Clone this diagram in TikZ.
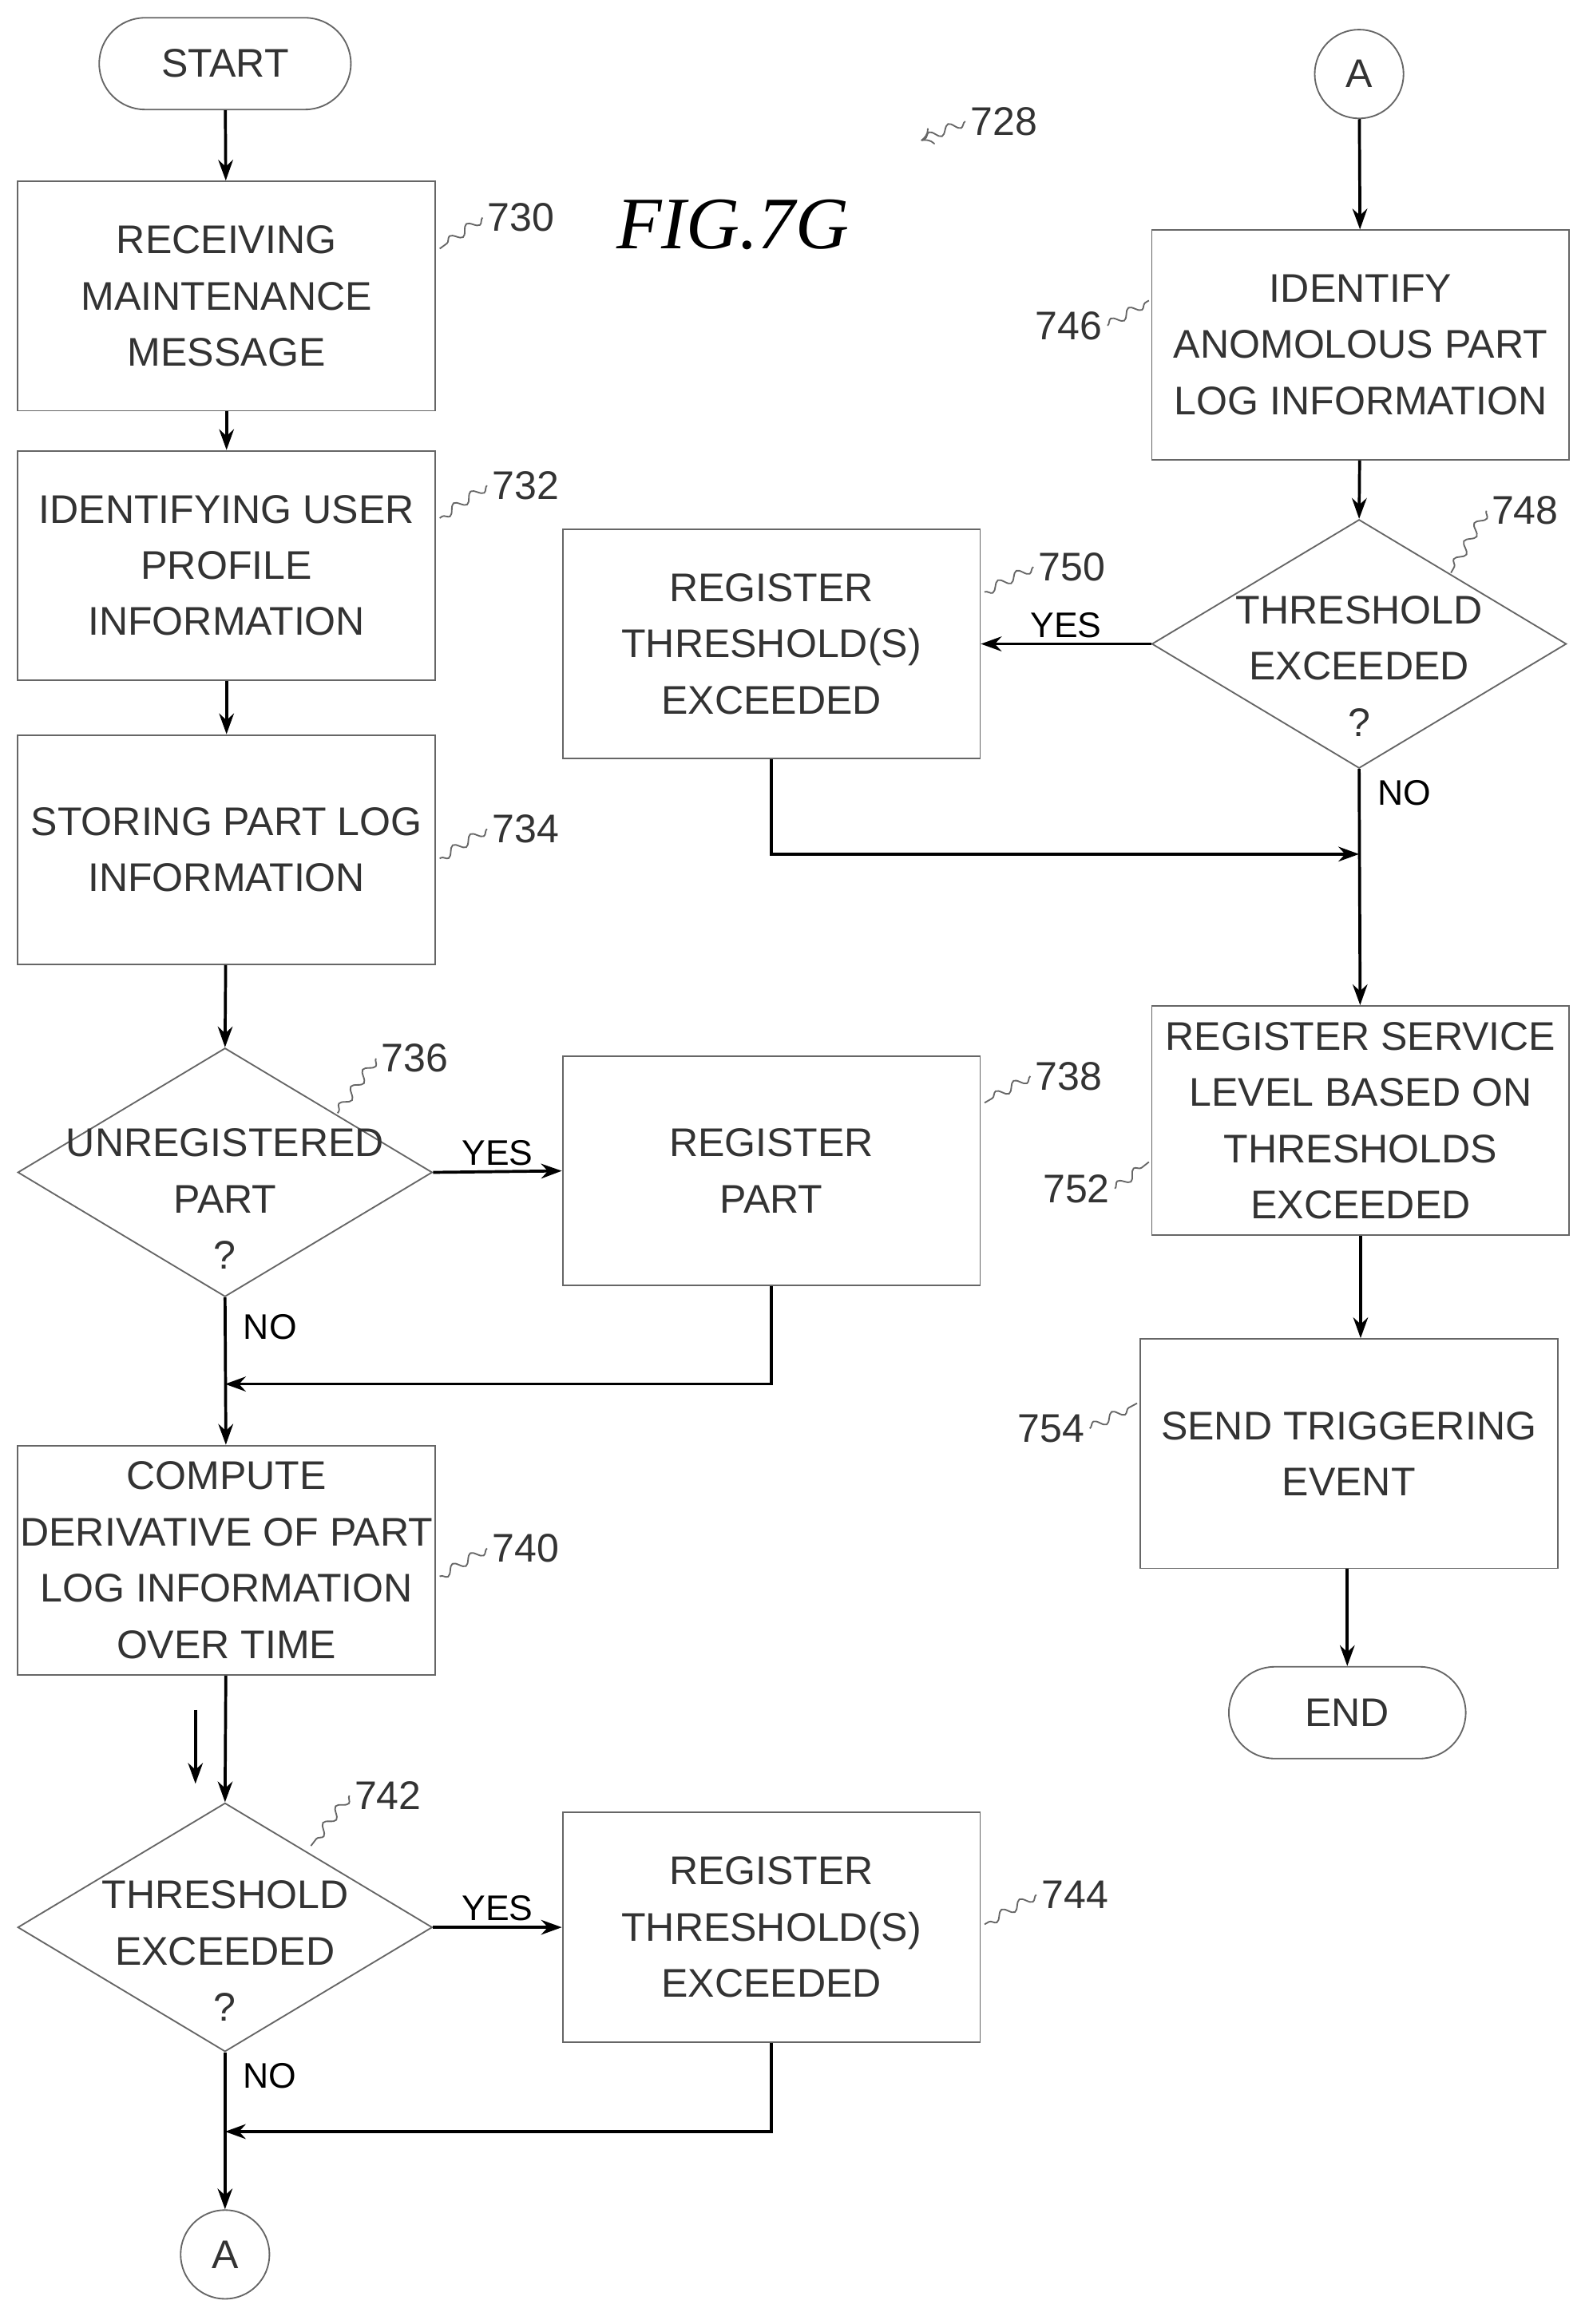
\documentclass[tikz,border=0pt]{standalone}
\usepackage{fontspec}
\setmainfont{Liberation Sans}
\newfontfamily\figfont{Liberation Serif}
\usetikzlibrary{shapes.geometric,decorations.pathmorphing,arrows.meta}
\tikzset{
  box/.style={draw=black!60, line width=1pt, minimum width=282pt, minimum height=155pt, align=center, inner sep=0pt, text=black!80},
  term/.style={draw=black!60, line width=1pt, rounded corners=31pt, minimum height=62pt, align=center, text=black!80},
  dia/.style={draw=black!60, line width=1pt, diamond, aspect=1.667, minimum width=280pt, minimum height=168pt, inner sep=0pt},
  conn/.style={draw=black!60, line width=1pt, circle, minimum size=60pt, inner sep=0pt, text=black!80},
  flow/.style={-{Stealth[length=14pt,width=10pt]}, line width=2pt},
  lead/.style={black!60, line width=1pt, decorate, decoration={snake, amplitude=3pt, segment length=14pt}},
  num/.style={text=black!80},
}
\begin{document}
\begin{tikzpicture}[x=1pt,y=-1pt,font=\fontsize{27}{38}\selectfont]
\useasboundingbox (0,0) rectangle (1073,1570);
% left column
\node[term, minimum width=170pt] (start) at (152,43) {START};
\node[box] (b730) at (153,200) {RECEIVING\\MAINTENANCE\\MESSAGE};
\node[box] (b732) at (153,382) {IDENTIFYING USER\\PROFILE\\INFORMATION};
\node[box] (b734) at (153,574) {STORING PART LOG\\INFORMATION};
\node[dia] (d736) at (152,792) {};
\node[align=center, text=black!80] (t736) at (152,810) {UNREGISTERED\\PART\\?};
\node[box] (b738) at (521,791) {REGISTER\\PART};
\node[box] (b740) at (153,1054) {COMPUTE\\DERIVATIVE OF PART\\LOG INFORMATION\\OVER TIME};
\node[dia] (d742) at (152,1302) {};
\node[align=center, text=black!80] (t742) at (152,1318) {THRESHOLD\\EXCEEDED\\?};
\node[box] (b744) at (521,1302) {REGISTER\\THRESHOLD(S)\\EXCEEDED};
\node[conn] (aout) at (152,1523) {A};
% right column
\node[conn] (ain) at (918,50) {A};
\node[box] (b746) at (919,233) {IDENTIFY\\ANOMOLOUS PART\\LOG INFORMATION};
\node[dia] (d748) at (918,435) {};
\node[align=center, text=black!80] (t748) at (918,450) {THRESHOLD\\EXCEEDED\\?};
\node[box] (b750) at (521,435) {REGISTER\\THRESHOLD(S)\\EXCEEDED};
\node[box] (b752) at (919,757) {REGISTER SERVICE\\LEVEL BASED ON\\THRESHOLDS\\EXCEEDED};
\node[box] (b754) at (911,982) {SEND TRIGGERING\\EVENT};
\node[term, minimum width=160pt] (end) at (910,1157) {END};
\coordinate (j1) at (152,935);
\coordinate (j2) at (152,1440);
\coordinate (j3) at (918,577);
\coordinate (x1) at (132,1155);
\coordinate (x2) at (132,1205);
% title and reference numbers
\node[font=\figfont\itshape\fontsize{50}{55}\selectfont] (fig) at (495,152) {FIG.7G};
\node[num] (n728) at (678,82) {728};
\draw[lead, -{To[length=8pt,width=12pt]}] (n728.west) -- (622,95);
\node[num] (n730) at (352,147) {730};
\draw[lead] (n730.west) -- (297,168);
\node[num] (n732) at (355,328) {732};
\draw[lead] (n732.west) -- (297,350);
\node[num] (n734) at (355,560) {734};
\draw[lead] (n734.west) -- (297,580);
\node[num] (n736) at (280,715) {736};
\draw[lead] (n736.west) -- (228,752);
\node[num] (n738) at (722,727) {738};
\draw[lead] (n738.west) -- (665,745);
\node[num] (n740) at (355,1046) {740};
\draw[lead] (n740.west) -- (297,1065);
\node[num] (n742) at (262,1213) {742};
\draw[lead] (n742.west) -- (210,1247);
\node[num] (n744) at (726,1280) {744};
\draw[lead] (n744.west) -- (665,1300);
\node[num] (n746) at (722,220) {746};
\draw[lead] (n746.east) -- (776,203);
\node[num] (n748) at (1030,345) {748};
\draw[lead] (n748.west) -- (980,387);
\node[num] (n750) at (724,383) {750};
\draw[lead] (n750.west) -- (665,400);
\node[num] (n752) at (727,803) {752};
\draw[lead] (n752.east) -- (776,785);
\node[num] (n754) at (710,965) {754};
\draw[lead] (n754.east) -- (768,948);
% connectors
\draw[flow] (start) -- (b730);
\draw[flow] (b730) -- (b732);
\draw[flow] (b732) -- (b734);
\draw[flow] (b734) -- (d736.north);
\draw[flow] (d736.east) -- node[above, font=\fontsize{24}{28}\selectfont] {YES} (b738.west);
\draw[flow] (d736.south) -- node[pos=0.2, right=8pt, font=\fontsize{24}{28}\selectfont] {NO} (b740);
\draw[flow] (b738.south) |- (j1);
\draw[flow] (b740) -- (d742.north);
\draw[flow] (x1) -- (x2);
\draw[flow] (d742.east) -- node[above, font=\fontsize{24}{28}\selectfont] {YES} (b744.west);
\draw[flow] (d742.south) -- node[pos=0.15, right=8pt, font=\fontsize{24}{28}\selectfont] {NO} (aout);
\draw[flow] (b744.south) |- (j2);
\draw[flow] (ain) -- (b746);
\draw[flow] (b746) -- (d748.north);
\draw[flow] (d748.west) -- node[above, font=\fontsize{24}{28}\selectfont] {YES} (b750.east);
\draw[flow] (d748.south) -- node[pos=0.1, right=8pt, font=\fontsize{24}{28}\selectfont] {NO} (b752);
\draw[flow] (b750.south) |- (j3);
\draw[flow] (b752) -- (b754.north -| b752);
\draw[flow] (b754.south -| end) -- (end);
\end{tikzpicture}
\end{document}
